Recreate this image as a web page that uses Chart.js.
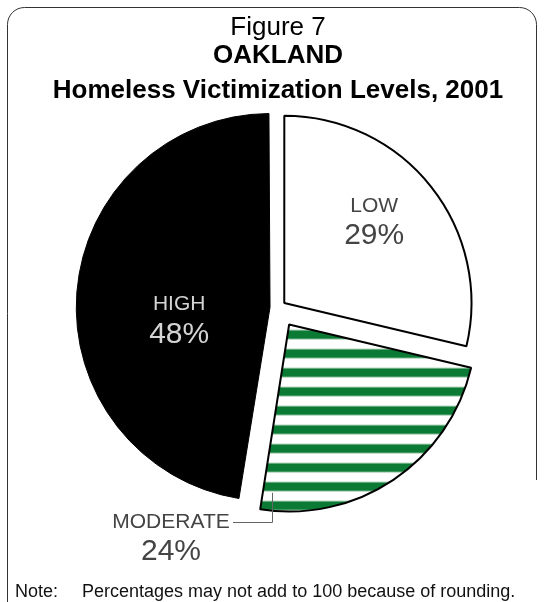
<!DOCTYPE html>
<html>
<head>
<meta charset="utf-8">
<script src="https://cdn.jsdelivr.net/npm/chart.js@4"></script>
<style>
  html, body { margin: 0; padding: 0; background: #fff; }
  canvas { display: block; }
</style>
</head>
<body>
<canvas id="victimChart" width="545" height="602"></canvas>
<script>
const categories = ['LOW', 'MODERATE', 'HIGH'];
const shares = [29, 24, 48];
const sliceOffsets = [32, 80, 32];
const titleText = 'Figure 7';
const subtitleLines = ['OAKLAND', 'Homeless Victimization Levels, 2001'];
const noteLabel = 'Note:';
const noteText = 'Percentages may not add to 100 because of rounding.';

const FONT = "'Liberation Sans', Arial, Helvetica, sans-serif";

// green / white horizontal bands for the moderate slice
function stripePattern() {
    const tile = document.createElement('canvas');
    tile.width = 4;
    tile.height = 19;
    const t = tile.getContext('2d');
    t.fillStyle = '#ffffff';
    t.fillRect(0, 0, 4, 19);
    t.fillStyle = '#9cc8a8';
    t.fillRect(0, 9, 4, 1);
    t.fillRect(0, 18, 4, 1);
    t.fillStyle = '#0a7a34';
    t.fillRect(0, 10, 4, 8);
    return t.createPattern(tile, 'repeat');
}

// label placement inside each slice: fraction of radius, nudge in degrees
const inside = {
    LOW: { frac: 0.65, nudge: -4, color: '#444444' },
    HIGH: { frac: 0.49, nudge: -12, color: '#d4d4d4' }
};

const annotations = {
    id: 'annotations',
    beforeDraw(chart) {
        const ctx = chart.ctx;
        ctx.save();
        ctx.strokeStyle = '#333';
        ctx.lineWidth = 1;
        ctx.beginPath();
        ctx.moveTo(7.5, 602);
        ctx.lineTo(7.5, 25);
        ctx.arcTo(7.5, 7.5, 25, 7.5, 17);
        ctx.lineTo(519, 7.5);
        ctx.arcTo(536.5, 7.5, 536.5, 25, 17);
        ctx.lineTo(536.5, 480);
        ctx.stroke();
        ctx.restore();
    },
    afterDatasetsDraw(chart) {
        const ctx = chart.ctx;
        const meta = chart.getDatasetMeta(0);
        ctx.save();
        ctx.textAlign = 'center';
        ctx.textBaseline = 'middle';

        meta.data.forEach((arc, i) => {
            const spec = inside[categories[i]];
            if (!spec) return;
            const p = arc.getProps(['x', 'y', 'startAngle', 'endAngle', 'outerRadius'], true);
            const mid = (p.startAngle + p.endAngle) / 2;
            const shift = sliceOffsets[i] / 4;
            const ax = p.x + Math.cos(mid) * shift;
            const ay = p.y + Math.sin(mid) * shift;
            const a = mid + spec.nudge * Math.PI / 180;
            const cx = ax + Math.cos(a) * p.outerRadius * spec.frac;
            const cy = ay + Math.sin(a) * p.outerRadius * spec.frac;
            ctx.fillStyle = spec.color;
            ctx.font = '21px ' + FONT;
            ctx.fillText(categories[i], cx, cy - 15);
            ctx.font = '30px ' + FONT;
            ctx.fillText(shares[i] + '%', cx, cy + 15);
        });

        // moderate slice is labelled outside with a leader line
        const mod = meta.data[1].getProps(['x', 'y'], true);
        const lx = mod.x - 107;
        const ly = mod.y + 214;
        ctx.fillStyle = '#444444';
        ctx.font = '21px ' + FONT;
        ctx.fillText(categories[1], lx, ly);
        ctx.font = '30px ' + FONT;
        ctx.fillText(shares[1] + '%', lx, ly + 30);

        ctx.strokeStyle = '#666';
        ctx.lineWidth = 1;
        ctx.beginPath();
        ctx.moveTo(lx + 62, Math.round(ly) + 0.5);
        ctx.lineTo(mod.x - 5.5, Math.round(ly) + 0.5);
        ctx.lineTo(mod.x - 5.5, mod.y + 185);
        ctx.stroke();

        // footnote
        ctx.fillStyle = '#111';
        ctx.textAlign = 'left';
        ctx.textBaseline = 'alphabetic';
        ctx.font = '18px ' + FONT;
        ctx.fillText(noteLabel, 15, 597);
        ctx.fillText(noteText, 82, 597);
        ctx.restore();
    }
};

const chart = new Chart(document.getElementById('victimChart'), {
    type: 'pie',
    data: {
        labels: categories,
        datasets: [{
            data: shares,
            backgroundColor: ['#ffffff', stripePattern(), '#000000'],
            borderColor: '#000000',
            borderWidth: [2, 2, 1],
            offset: sliceOffsets,
            hoverOffset: 0
        }]
    },
    options: {
        responsive: false,
        animation: false,
        radius: 187,
        layout: { padding: { left: 11, right: 0, top: 0, bottom: 95 } },
        plugins: {
            legend: { display: false },
            tooltip: { enabled: false },
            title: {
                display: true,
                text: titleText,
                color: '#000',
                font: { family: FONT, size: 26, weight: 'normal', lineHeight: 0.8 },
                padding: { top: 17, bottom: 0 }
            },
            subtitle: {
                display: true,
                text: subtitleLines,
                color: '#000',
                font: { family: FONT, size: 26, weight: 'bold', lineHeight: 1.346 },
                padding: { top: 1, bottom: 0 }
            }
        }
    },
    plugins: [annotations]
});
</script>
</body>
</html>
